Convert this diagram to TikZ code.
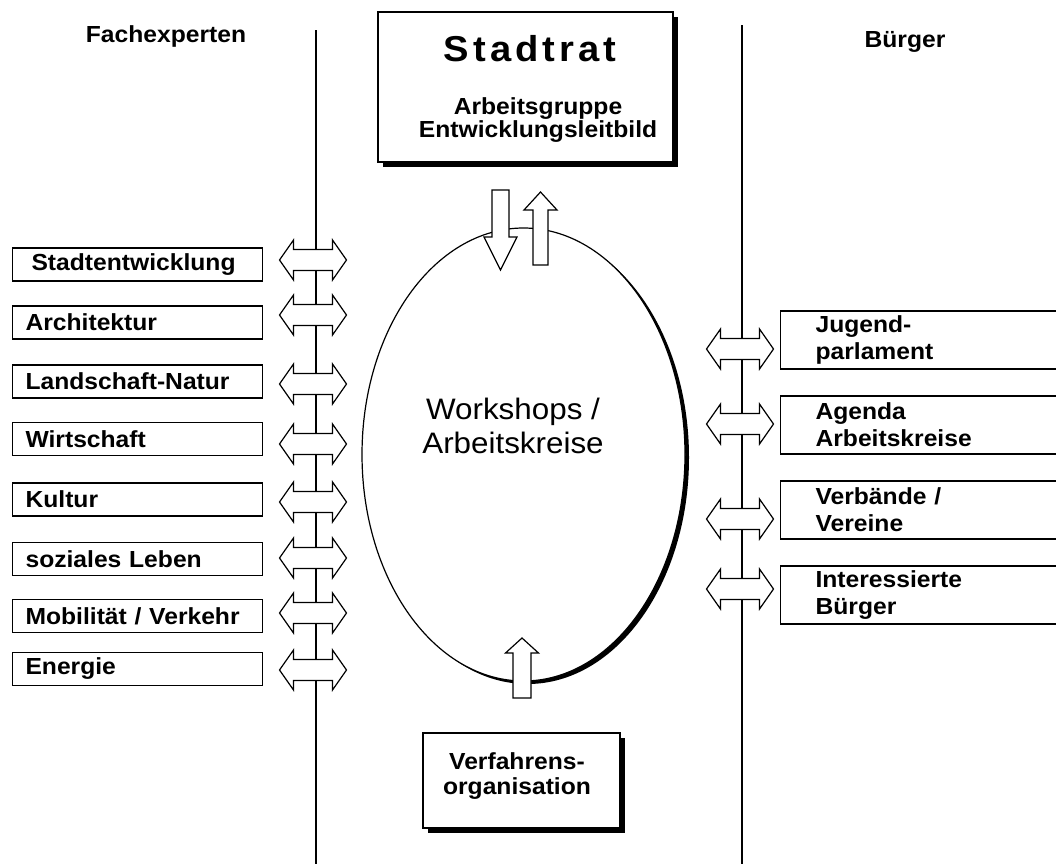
\documentclass[tikz,border=0pt]{standalone}
\usepackage{fontspec}
\setmainfont{Liberation Sans}[FakeStretch=1.06]
\usetikzlibrary{shapes.geometric,shadows}
\begin{document}
\begin{tikzpicture}[x=1pt,y=-1pt,line width=1.2pt,
  bold22/.style={font=\bfseries\fontsize{23.25pt}{26pt}\selectfont},
  shade5/.style={drop shadow={shadow xshift=5pt,shadow yshift=-5pt,fill=black,opacity=1}},
  lbox/.style={draw,line width=1.1pt,fill=white,anchor=west,minimum width=250pt,minimum height=33pt,
    inner xsep=13pt,inner ysep=0pt,text width=224pt,align=left,bold22},
  rbox/.style={draw,line width=1.1pt,fill=white,anchor=west,minimum width=282pt,minimum height=58pt,
    inner xsep=35pt,inner ysep=0pt,text width=212pt,align=left,font=\bfseries\fontsize{23.25pt}{27pt}\selectfont},
  blockarrow/.style={draw,fill=white,line width=1.2pt,line join=miter},
  darrow/.pic={\path[blockarrow] (-33.5,0) -- (-19.5,-20) -- (-19.5,-10.5) -- (19.5,-10.5) -- (19.5,-20)
     -- (33.5,0) -- (19.5,20) -- (19.5,10.5) -- (-19.5,10.5) -- (-19.5,20) -- cycle;}
]
\useasboundingbox (0,0) rectangle (1056,863);

% headers
\node[bold22,anchor=base] (hfach) at (166,42) {Fachexperten};
\node[bold22,anchor=base] (hbuerger) at (905,47) {Bürger};

% vertical lines
\coordinate (lt) at (316,30);  \coordinate (lb) at (316,866);
\coordinate (rt) at (742,25);  \coordinate (rb) at (742,866);
\draw[line width=1.5pt] (lt) -- (lb);
\draw[line width=1.5pt] (rt) -- (rb);

% Stadtrat box
\node[draw,line width=1.2pt,fill=white,minimum width=295pt,minimum height=150pt,shade5] (stadtrat) at (525.5,87) {};
\node[font=\bfseries\fontsize{36pt}{38pt}\selectfont] (titel) at (530,49)
  {S\kern4pt t\kern4pt a\kern4pt d\kern4pt t\kern4pt r\kern4pt a\kern4pt t};
\node[font=\bfseries\fontsize{23.25pt}{23.5pt}\selectfont,align=center] (ag) at (538,120) {Arbeitsgruppe\\Entwicklungsleitbild};

% ellipse
\node[ellipse,draw,line width=1.2pt,fill=white,minimum width=323pt,minimum height=453pt,inner sep=0pt,
  drop shadow={shadow xshift=4pt,shadow yshift=-3pt,fill=black,opacity=1}] (ws) at (523.5,454.5) {};
\node[font=\fontsize{29.6pt}{34pt}\selectfont,align=center] (wstext) at (513,426) {Workshops /\\Arbeitskreise};

% top arrows
\path[blockarrow] (492,190) -- (509,190) -- (509,237) -- (517,237) -- (500.5,270) -- (484,237) -- (492,237) -- cycle;
\path[blockarrow] (533,265) -- (548,265) -- (548,210) -- (557,210) -- (540.5,192) -- (524,210) -- (533,210) -- cycle;
% bottom arrow
\path[blockarrow] (513,698) -- (531,698) -- (531,653) -- (538.5,653) -- (522,638) -- (505.5,653) -- (513,653) -- cycle;

% Verfahrensorganisation
\node[draw,line width=1.2pt,fill=white,minimum width=197pt,minimum height=95pt,shade5] (vo) at (521.5,780.5) {};
\node[font=\bfseries\fontsize{23.25pt}{25pt}\selectfont,align=center] (votext) at (517,776) {Verfahrens-\\organisation};

% left boxes
\node[lbox] (l1) at (12,264.5) {\hspace*{6pt}Stadtentwicklung};
\node[lbox] (l2) at (12,322.5) {Architektur};
\node[lbox] (l3) at (12,381.5) {Landschaft-Natur};
\node[lbox] (l4) at (12,439) {Wirtschaft};
\node[lbox] (l5) at (12,499.5) {Kultur};
\node[lbox] (l6) at (12,559) {soziales Leben};
\node[lbox] (l7) at (12,616) {Mobilität / Verkehr};
\node[lbox] (l8) at (12,669) {Energie};

% left double arrows
\foreach \yy in {260,315,384,444,502,558,613,670} {\pic at (313,\yy) {darrow};}

% right boxes
\node[rbox] (r1) at (780,340) {Jugend-\\parlament};
\node[rbox] (r2) at (780,425) {Agenda\\Arbeitskreise};
\node[rbox] (r3) at (780,510) {Verbände /\\Vereine};
\node[rbox] (r4) at (780,595) {Interessierte\\Bürger};

% right double arrows
\foreach \yy in {349,424,519,589} {\pic at (740,\yy) {darrow};}
\end{tikzpicture}
\end{document}
